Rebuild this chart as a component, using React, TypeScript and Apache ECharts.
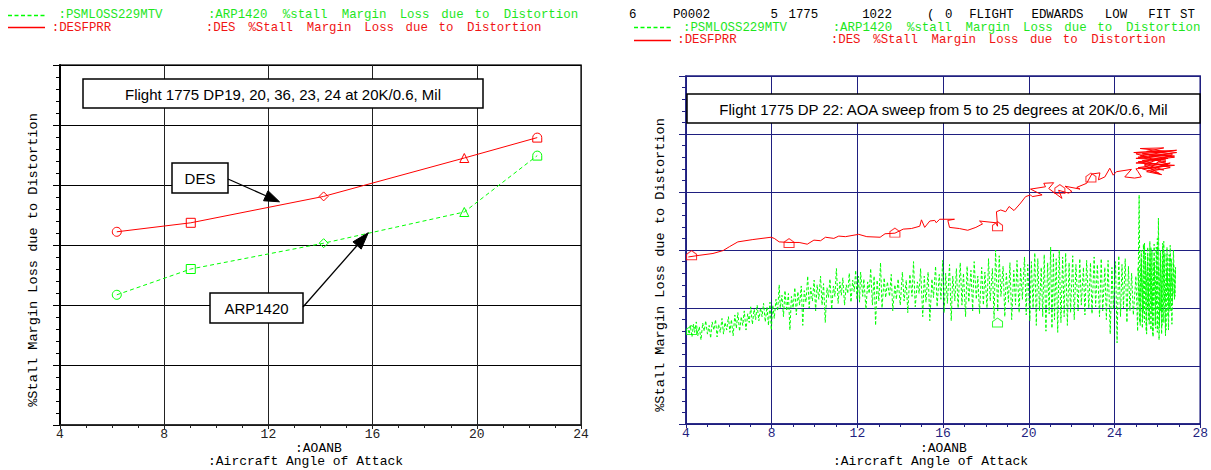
import React, { useEffect, useRef } from "react";
import * as echarts from "echarts";

// ---------- Left chart data (AOA vs %Stall margin loss) ----------
const leftAOA = [6.18, 9.02, 14.12, 19.52, 22.32];
const desLoss = [3.22, 3.37, 3.81, 4.45, 4.79];
const arpLoss = [2.17, 2.6, 3.03, 3.55, 4.49];
const DOME = "path://M0,10 L0,5 A5,5 0 0 1 10,5 L10,10 Z";
const HOUSE = "path://M0,4 L5,0 L10,4 L10,10 L0,10 Z";
const leftSymbols = ["circle", "rect", "diamond", "triangle", DOME];

const leftTicks = [4, 8, 12, 16, 20, 24];
const rightTicks = [4, 8, 12, 16, 20, 24, 28];

// ---------- Right chart data (AOA sweep) ----------
const rightRed: number[][] = [
  [4.11, 2.88], [4.65, 2.91], [5.26, 2.94], [5.73, 2.99], [6.04, 3.06], [6.42, 3.14], [7.12, 3.18],
  [7.97, 3.22], [8.12, 3.2], [8.35, 3.14], [8.81, 3.13], [9.28, 3.13], [9.66, 3.1], [9.97, 3.17],
  [10.28, 3.16], [10.51, 3.22], [10.9, 3.2], [11.13, 3.24], [11.44, 3.23], [12.06, 3.27], [12.44, 3.23],
  [13.06, 3.22], [13.29, 3.28], [13.75, 3.29], [14.14, 3.36], [14.52, 3.37], [14.91, 3.41], [14.99, 3.52],
  [15.14, 3.39], [15.38, 3.5], [15.61, 3.51], [15.68, 3.47], [15.84, 3.53], [16.53, 3.53], [16.22, 3.51],
  [16.3, 3.39], [16.76, 3.37], [17.15, 3.34], [17.53, 3.39], [17.84, 3.45], [17.7, 3.5], [18.46, 3.47],
  [18.54, 3.41], [18.49, 3.66], [18.69, 3.69], [18.92, 3.66], [19.08, 3.75], [19.31, 3.68], [19.62, 3.81],
  [19.85, 3.92], [20.08, 3.95], [20.16, 3.92], [20.62, 3.95], [20.08, 4.05], [20.78, 4.09], [20.7, 4.15],
  [21.16, 4.16], [20.93, 4.06], [21.55, 3.89], [21.39, 4.03], [21.86, 3.98], [22.01, 4.01], [21.69, 4.1],
  [22.39, 4.05], [22.24, 4.08], [22.7, 4.15], [22.94, 4.31], [23.32, 4.33], [23.25, 4.21], [23.55, 4.26],
  [23.78, 4.41], [23.94, 4.29], [24.09, 4.35], [24.79, 4.39], [24.48, 4.26], [24.94, 4.24], [25.25, 4.26],
  [25.1, 4.35], [25.0, 4.4], [26.6, 4.45], [25.1, 4.52], [26.8, 4.6], [25.3, 4.66], [26.5, 4.7], [24.9, 4.68],
  [26.9, 4.72], [25.2, 4.62], [26.4, 4.55], [25.0, 4.58], [26.7, 4.64], [25.4, 4.48], [26.3, 4.38],
  [25.1, 4.42], [26.6, 4.5], [25.5, 4.35], [26.2, 4.3], [25.3, 4.4], [26.8, 4.46], [25.0, 4.5], [26.5, 4.58],
  [25.6, 4.62], [26.9, 4.68], [25.2, 4.75], [26.3, 4.76], [25.5, 4.7], [26.7, 4.66], [25.1, 4.6],
  [26.4, 4.52], [25.4, 4.46], [26.1, 4.32], [25.7, 4.36], [26.6, 4.42], [25.3, 4.54], [26.8, 4.62],
  [25.0, 4.66], [26.5, 4.48], [25.6, 4.4], [26.2, 4.56],
];

const rightGreen: number[][] = [
  [4.1, 1.62], [4.15, 1.55], [4.2, 1.7], [4.28, 1.5], [4.35, 1.72], [4.4, 1.58], [4.48, 1.76], [4.55, 1.52],
  [4.62, 1.68], [4.7, 1.45], [4.78, 1.74], [4.85, 1.6], [4.92, 1.78], [5.0, 1.55], [5.08, 1.7], [5.15, 1.48],
  [5.22, 1.76], [5.3, 1.62], [5.38, 1.8], [5.45, 1.5], [5.52, 1.72], [5.6, 1.58], [5.68, 1.82], [5.75, 1.55],
  [5.82, 1.75], [5.9, 1.62], [5.98, 1.85],
  [6.05, 1.58], [6.12, 1.8], [6.2, 1.52], [6.28, 1.88], [6.35, 1.65], [6.42, 1.92], [6.5, 1.6], [6.58, 1.85],
  [6.65, 1.7], [6.72, 1.95], [6.8, 1.62], [6.88, 1.9], [6.95, 1.75], [7.02, 2.02], [7.1, 1.72], [7.18, 1.98],
  [7.25, 1.8], [7.32, 2.05], [7.4, 1.78], [7.48, 2.0], [7.55, 1.85], [7.62, 2.08], [7.7, 1.76], [7.78, 2.02],
  [7.85, 1.7], [7.92, 2.1], [7.98, 1.62],
  [8.05, 2.05], [8.12, 1.82], [8.2, 2.15], [8.28, 1.95], [8.35, 2.4], [8.4, 2.0], [8.48, 2.22], [8.55, 1.85],
  [8.62, 2.3], [8.7, 1.95], [8.78, 2.25], [8.85, 1.62], [8.92, 2.2], [9.0, 2.0], [9.08, 2.35], [9.15, 1.88],
  [9.22, 2.28], [9.3, 2.05], [9.38, 2.38], [9.45, 1.7], [9.52, 2.3], [9.6, 2.1], [9.68, 2.55], [9.75, 2.0],
  [9.82, 2.35], [9.9, 2.12], [9.98, 2.48],
  [10.05, 1.95], [10.12, 2.4], [10.2, 2.15], [10.28, 2.55], [10.35, 2.05], [10.42, 2.42], [10.5, 1.75],
  [10.58, 2.35], [10.65, 2.18], [10.72, 2.5], [10.8, 1.98], [10.88, 2.38], [10.95, 2.2], [11.02, 2.68],
  [11.1, 2.08], [11.18, 2.45], [11.25, 2.22], [11.32, 2.52], [11.4, 2.05], [11.48, 2.4], [11.55, 2.25],
  [11.62, 2.6], [11.7, 2.1], [11.78, 2.48], [11.85, 2.28], [11.92, 2.65], [11.98, 2.15],
  [12.05, 2.55], [12.1, 2.1], [12.15, 2.62], [12.25, 2.2], [12.3, 2.5], [12.4, 1.98], [12.48, 2.45],
  [12.55, 2.25], [12.62, 2.68], [12.7, 2.05], [12.78, 2.55], [12.85, 1.7], [12.92, 2.48], [13.0, 2.12],
  [13.08, 2.78], [13.15, 2.0], [13.25, 2.52], [13.32, 2.18], [13.4, 2.45], [13.5, 2.2], [13.58, 2.58],
  [13.65, 1.95], [13.75, 2.4], [13.82, 2.15], [13.9, 2.5], [14.0, 2.05], [14.1, 2.62], [14.18, 2.12],
  [14.28, 2.48], [14.35, 1.92], [14.45, 2.58], [14.55, 2.2], [14.62, 2.8], [14.7, 2.02], [14.8, 2.45],
  [14.88, 2.25], [14.95, 2.68], [15.05, 1.85], [15.12, 2.55], [15.2, 2.1], [15.3, 2.62], [15.38, 1.78],
  [15.48, 2.5], [15.55, 2.18], [15.65, 2.72], [15.72, 2.02], [15.82, 2.58], [15.9, 2.15], [15.98, 2.82],
  [16.05, 1.92], [16.12, 2.6], [16.2, 2.08], [16.3, 2.75], [16.38, 1.78], [16.45, 2.55], [16.55, 2.12],
  [16.62, 2.68], [16.7, 2.0], [16.8, 2.78], [16.88, 2.05], [16.95, 2.6], [17.05, 1.85], [17.12, 2.72],
  [17.2, 2.1], [17.3, 2.65], [17.38, 1.95], [17.45, 2.8], [17.55, 2.15], [17.62, 2.55], [17.7, 1.9],
  [17.8, 2.7], [17.88, 2.05], [17.95, 2.62], [18.05, 2.0], [18.12, 2.85], [18.2, 2.12], [18.3, 2.68],
  [18.38, 1.82], [18.45, 3.0], [18.55, 1.95], [18.62, 2.9], [18.7, 2.2], [18.8, 2.72], [18.88, 1.85],
  [18.95, 2.6], [19.05, 2.1], [19.12, 2.78], [19.2, 1.8], [19.3, 2.65], [19.38, 2.05], [19.45, 2.82],
  [19.55, 1.92], [19.62, 2.7], [19.7, 2.15], [19.8, 2.88], [19.88, 1.88], [19.95, 2.75],
  [20.05, 1.78], [20.12, 2.8], [20.2, 2.0], [20.28, 2.95], [20.35, 1.7], [20.42, 2.85], [20.5, 1.95],
  [20.58, 2.7], [20.65, 1.85], [20.72, 2.92], [20.8, 1.6], [20.88, 2.78], [20.95, 1.9], [21.02, 3.05],
  [21.08, 1.65], [21.15, 2.95], [21.2, 1.8], [21.28, 2.85], [21.35, 1.58], [21.42, 3.0], [21.5, 1.75],
  [21.58, 2.88], [21.65, 1.85], [21.72, 2.95], [21.8, 1.7], [21.88, 2.78], [21.95, 1.92], [22.05, 2.9],
  [22.12, 1.8], [22.2, 2.75], [22.3, 1.95], [22.38, 2.85], [22.45, 2.05], [22.55, 2.7], [22.62, 1.88],
  [22.7, 2.82], [22.8, 2.0], [22.88, 2.78], [22.95, 1.9], [23.05, 2.88], [23.12, 2.02], [23.2, 2.75],
  [23.3, 1.85], [23.38, 2.85], [23.45, 1.95], [23.55, 2.7], [23.62, 1.8], [23.7, 2.82], [23.8, 1.55],
  [23.88, 2.7], [23.95, 1.98],
  [24.05, 2.8], [24.12, 1.4], [24.2, 2.9], [24.28, 1.85], [24.35, 2.75], [24.42, 2.0], [24.5, 2.85],
  [24.58, 1.75], [24.65, 2.72], [24.72, 1.95], [24.8, 2.6], [24.88, 1.88],
  [25.0, 2.55], [25.08, 1.6], [25.15, 3.95], [25.2, 1.7], [25.25, 3.0], [25.3, 1.65], [25.35, 3.1],
  [25.4, 1.75], [25.45, 2.95], [25.5, 1.55], [25.55, 3.05], [25.6, 1.8], [25.65, 3.15], [25.7, 1.62],
  [25.75, 2.98], [25.8, 1.5], [25.85, 3.1], [25.9, 1.7], [25.95, 3.05], [26.0, 1.58], [26.05, 3.55],
  [26.1, 1.68], [26.15, 3.0], [26.2, 1.55], [26.25, 3.12], [26.3, 1.75], [26.35, 2.95], [26.4, 1.62],
  [26.45, 3.05], [26.5, 1.85], [26.55, 2.92], [26.6, 1.95], [26.65, 2.85], [26.7, 2.05], [26.75, 2.78],
  [26.8, 2.15], [26.85, 2.7],
  [26.82, 2.2], [26.75, 3.0], [26.68, 1.72], [26.6, 3.08], [26.52, 1.62], [26.45, 2.88], [26.38, 1.52],
  [26.3, 3.15], [26.22, 1.7], [26.15, 2.9], [26.08, 1.45], [26.0, 3.2], [25.92, 1.65], [25.85, 2.85],
  [25.78, 1.55], [25.7, 3.05], [25.62, 1.72], [25.55, 2.9], [25.48, 1.6], [25.4, 3.12], [25.32, 1.8],
  [25.25, 2.85], [25.18, 1.75], [25.1, 2.7],
  [25.15, 2.1], [25.25, 2.75], [25.35, 1.95], [25.45, 2.8], [25.55, 2.0], [25.65, 2.7], [25.75, 1.9],
  [25.85, 2.78], [25.95, 2.05], [26.05, 2.72], [26.15, 1.95], [26.25, 2.8], [26.35, 2.1], [26.45, 2.65],
  [26.55, 2.0], [26.65, 2.55], [26.75, 2.25],
];

const redMarkers: number[][] = [[4.26, 2.91], [8.81, 3.12], [13.75, 3.3], [18.54, 3.41], [21.45, 4.05], [22.9, 4.25]];
const greenMarkers: number[][] = [[4.26, 1.62], [18.54, 1.75]];

// ---------- styling ----------
const RED = "#ff0000";
const GREEN = "#00ff00";
const RED_TXT = "#f01414";
const GREEN_TXT = "#1ee61e";
const NAVY = "#1f1f80";
const MONO = '"Liberation Mono", "DejaVu Sans Mono", monospace';
const SANS = '"Liberation Sans", Arial, sans-serif';
const HDR = 12.4;

function txt(x: number, y: number, text: string, fill: string, size = 13.8, align = "left", rot = 0, family = MONO) {
  return {
    type: "text",
    x,
    y,
    rotation: rot,
    z: 100,
    style: { text, fill, font: `${size}px ${family}`, textAlign: align, textVerticalAlign: "middle" },
  };
}
// word-by-word placement to mimic the wide plotter font
function spaced(x0: number, x1: number, y: number, str: string, fill: string, size = HDR) {
  const pitch = (x1 - x0) / str.length;
  const out: any[] = [];
  let i = 0;
  for (const w of str.split(" ")) {
    if (w) out.push(txt(x0 + (i + w.length / 2) * pitch, y, w, fill, size, "center"));
    i += w.length + 1;
  }
  return out;
}
function hline(x1: number, x2: number, y: number, color: string, dashed: boolean) {
  const style: any = { stroke: color, lineWidth: 1.4 };
  if (dashed) style.lineDash = [4, 2.5];
  return { type: "line", z: 100, shape: { x1, y1: y, x2, y2: y }, style };
}
function box(x: number, y: number, w: number, h: number, text: string) {
  return [
    { type: "rect", z: 100, shape: { x, y, width: w, height: h }, style: { fill: "#fff", stroke: "#000", lineWidth: 1.5 } },
    txt(x + w / 2, y + h / 2 + 0.5, text, "#000", 15, "center", 0, SANS),
  ];
}
function arrow(x1: number, y1: number, x2: number, y2: number, head = 15, half = 5.5) {
  const dx = x2 - x1, dy = y2 - y1;
  const len = Math.sqrt(dx * dx + dy * dy);
  const ux = dx / len, uy = dy / len;
  const bx = x2 - head * ux, by = y2 - head * uy;
  const nx = -uy, ny = ux;
  return [
    { type: "line", z: 100, shape: { x1, y1, x2: bx, y2: by }, style: { stroke: "#000", lineWidth: 1.3 } },
    {
      type: "polygon",
      z: 100,
      shape: { points: [[x2, y2], [bx + half * nx, by + half * ny], [bx - half * nx, by - half * ny]] },
      style: { fill: "#000", stroke: "#000" },
    },
  ];
}

export default function App() {
  const ref = useRef<HTMLDivElement>(null);
  useEffect(() => {
    if (!ref.current) return;
    const chart = echarts.init(ref.current, null, { renderer: "svg" });

    const axisX = (grid: number, ticks: number[], color: string, lineW: number) => ({
      gridIndex: grid,
      type: "value",
      min: ticks[0],
      max: ticks[ticks.length - 1],
      interval: ticks[1] - ticks[0],
      axisLine: { show: true, onZero: false, lineStyle: { color, width: lineW } },
      axisTick: { show: true, length: 4, lineStyle: { color } },
      minorTick: { show: true, splitNumber: 4, length: 3, lineStyle: { color } },
      axisLabel: { color, fontFamily: "Liberation Mono", fontSize: 13, margin: 3 },
      splitLine: { show: true, lineStyle: { color, width: 1 } },
    });
    const axisY = (grid: number, color: string, lineW: number) => ({
      gridIndex: grid,
      type: "value",
      min: 0,
      max: 6,
      interval: 1,
      axisLine: { show: true, onZero: false, lineStyle: { color, width: lineW } },
      axisTick: { show: true, length: 7, lineStyle: { color } },
      minorTick: { show: true, splitNumber: 5, length: 4, lineStyle: { color } },
      axisLabel: { show: false },
      splitLine: { show: true, lineStyle: { color, width: 1 } },
    });

    const graphicEls: any[] = [
      // left legend
      hline(8, 45, 15.5, GREEN, true),
      ...spaced(46, 175, 15, ":PSMLOSS229MTV", GREEN_TXT),
      ...spaced(204, 583, 15, ":ARP1420 %stall Margin Loss due to Distortion", GREEN_TXT),
      hline(8, 45, 27.5, RED, false),
      ...spaced(46, 117, 27.5, ":DESFPRR", RED_TXT),
      ...spaced(204, 546, 27.5, ":DES %Stall Margin Loss due to Distortion", RED_TXT),
      // right header
      txt(629, 15, "6", "#000", HDR),
      ...spaced(670, 713, 15, "P0002", "#000"),
      ...spaced(770, 820, 15, "5 1775", "#000"),
      ...spaced(860, 894, 15, "1022", "#000"),
      txt(927, 15, "(", "#000", HDR),
      txt(945, 15, "0", "#000", HDR),
      ...spaced(965, 1018, 15, "FLIGHT", "#000"),
      ...spaced(1025, 1090, 15, "EDWARDS", "#000"),
      ...spaced(1102, 1130, 15, "LOW", "#000"),
      ...spaced(1147, 1172, 15, "FIT", "#000"),
      ...spaced(1178, 1197, 15, "ST", "#000"),
      // right legend
      hline(634, 671, 27.5, GREEN, true),
      ...spaced(672, 798, 27.5, ":PSMLOSS229MTV", GREEN_TXT),
      ...spaced(829, 1205, 27.5, ":ARP1420 %stall Margin Loss due to Distortion", GREEN_TXT),
      hline(634, 671, 40.5, RED, false),
      ...spaced(672, 742, 40, ":DESFPRR", RED_TXT),
      ...spaced(829, 1170, 40, ":DES %Stall Margin Loss due to Distortion", RED_TXT),
      // axis titles
      txt(33, 260, "%Stall Margin Loss due to Distortion", "#000", 13.6, "center", Math.PI / 2),
      txt(660, 265, "%Stall Margin Loss due to Distortion", "#000", 13.6, "center", Math.PI / 2),
      txt(295, 448, ":AOANB", "#000", 13),
      txt(208, 461, ":Aircraft Angle of Attack", "#000", 13),
      txt(920, 448, ":AOANB", "#000", 13),
      txt(833, 461, ":Aircraft Angle of Attack", "#000", 13),
      // annotation boxes
      ...box(83, 79, 400, 29, "Flight 1775 DP19, 20, 36, 23, 24 at 20K/0.6, Mil"),
      ...box(172, 163, 56, 30, "DES"),
      ...box(210, 293, 93, 30, "ARP1420"),
      ...box(687, 94, 513, 29, "Flight 1775 DP 22: AOA sweep from 5 to 25 degrees at 20K/0.6, Mil"),
      ...arrow(228, 179, 279.5, 201.8, 15, 5.5),
      ...arrow(303, 307, 368.3, 232.7, 17, 5.5),
    ];

    const hollow = (c: string) => ({ color: "rgba(255,255,255,0)", borderColor: c, borderWidth: 1 });

    chart.setOption({
      animation: false,
      backgroundColor: "#fff",
      grid: [
        { left: 60, top: 65, width: 521, height: 360, show: true, borderColor: "#333", borderWidth: 1.5, backgroundColor: "transparent" },
        { left: 686, top: 76, width: 518, height: 348, show: true, borderColor: NAVY, borderWidth: 1.5, backgroundColor: "transparent" },
      ],
      xAxis: [axisX(0, leftTicks, "#222", 1.5), axisX(1, rightTicks, NAVY, 1.5)],
      yAxis: [axisY(0, "#000", 2), axisY(1, NAVY, 1.5)],
      series: [
        {
          type: "line",
          xAxisIndex: 0,
          yAxisIndex: 0,
          data: leftAOA.map((x, i) => ({ value: [x, arpLoss[i]], symbol: leftSymbols[i] })),
          symbolSize: 9,
          lineStyle: { color: GREEN, width: 1, type: [4, 3] },
          itemStyle: hollow(GREEN),
          z: 3,
        },
        {
          type: "line",
          xAxisIndex: 0,
          yAxisIndex: 0,
          data: leftAOA.map((x, i) => ({ value: [x, desLoss[i]], symbol: leftSymbols[i] })),
          symbolSize: 9,
          lineStyle: { color: RED, width: 1 },
          itemStyle: hollow(RED),
          z: 4,
        },
        {
          type: "line",
          xAxisIndex: 1,
          yAxisIndex: 1,
          data: rightGreen,
          showSymbol: false,
          symbol: "none",
          lineStyle: { color: GREEN, width: 1, type: [3, 2] },
          z: 3,
        },
        {
          type: "line",
          xAxisIndex: 1,
          yAxisIndex: 1,
          data: rightRed,
          showSymbol: false,
          symbol: "none",
          lineStyle: { color: RED, width: 1 },
          z: 4,
        },
        {
          type: "scatter",
          xAxisIndex: 1,
          yAxisIndex: 1,
          data: redMarkers,
          symbol: HOUSE,
          symbolSize: [10, 9],
          itemStyle: hollow(RED),
          z: 5,
        },
        {
          type: "scatter",
          xAxisIndex: 1,
          yAxisIndex: 1,
          data: greenMarkers,
          symbol: HOUSE,
          symbolSize: [10, 9],
          itemStyle: hollow(GREEN),
          z: 5,
        },
      ],
      graphic: { elements: graphicEls },
    });
    return () => chart.dispose();
  }, []);
  return <div ref={ref} style={{ position: "absolute", left: 0, top: 0, width: 1211, height: 470, background: "#fff" }} />;
}
